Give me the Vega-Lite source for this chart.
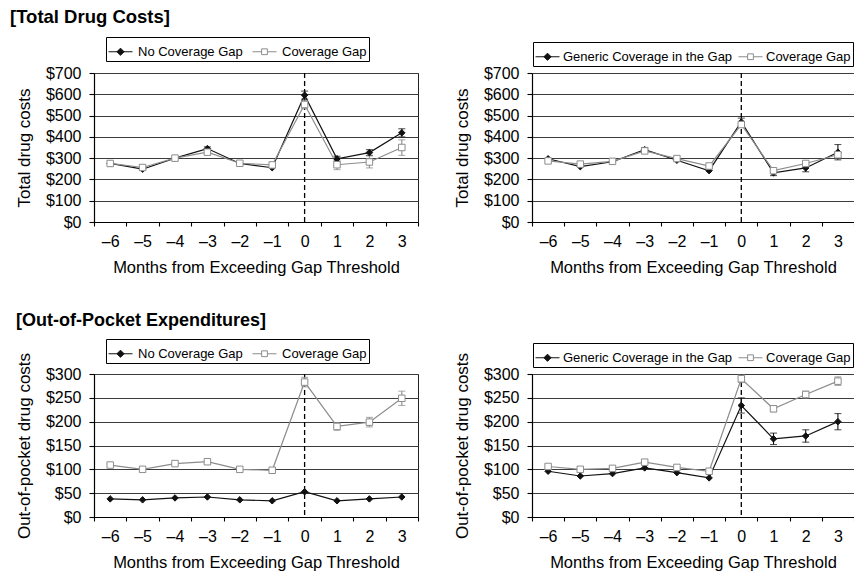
{
  "$schema": "https://vega.github.io/schema/vega-lite/v6.json",
  "autosize": "none",
  "padding": {"left": 94, "top": 73, "right": 760, "bottom": 499},
  "config": {
    "font": "Liberation Sans",
    "view": {"stroke": "#222", "strokeWidth": 1},
    "axis": {"labelFont": "Liberation Sans", "titleFont": "Liberation Sans", "labelFontSize": 16, "titleFontSize": 16.5, "labelColor": "black", "titleColor": "black", "titleFontWeight": "normal", "domainColor": "black", "tickColor": "black", "gridColor": "#3c3c3c", "gridWidth": 1.1, "domainWidth": 1.2, "tickWidth": 1.1},
    "axisY": {"titleFontSize": 17},
    "legend": {"labelFont": "Liberation Sans", "labelColor": "black"}
  },
  "datasets": {
    "d": [
      {"p":1,"s":"No Coverage Gap","m":-6,"v":275},
      {"p":1,"s":"No Coverage Gap","m":-5,"v":248},
      {"p":1,"s":"No Coverage Gap","m":-4,"v":300},
      {"p":1,"s":"No Coverage Gap","m":-3,"v":345,"lo":337,"hi":353},
      {"p":1,"s":"No Coverage Gap","m":-2,"v":275},
      {"p":1,"s":"No Coverage Gap","m":-1,"v":255},
      {"p":1,"s":"No Coverage Gap","m":0,"v":596,"lo":577,"hi":615},
      {"p":1,"s":"No Coverage Gap","m":1,"v":297,"lo":286,"hi":309},
      {"p":1,"s":"No Coverage Gap","m":2,"v":326,"lo":313,"hi":340},
      {"p":1,"s":"No Coverage Gap","m":3,"v":419,"lo":400,"hi":438},
      {"p":1,"s":"Coverage Gap","m":-6,"v":275},
      {"p":1,"s":"Coverage Gap","m":-5,"v":256},
      {"p":1,"s":"Coverage Gap","m":-4,"v":300},
      {"p":1,"s":"Coverage Gap","m":-3,"v":328},
      {"p":1,"s":"Coverage Gap","m":-2,"v":276},
      {"p":1,"s":"Coverage Gap","m":-1,"v":268},
      {"p":1,"s":"Coverage Gap","m":0,"v":552,"lo":532,"hi":572},
      {"p":1,"s":"Coverage Gap","m":1,"v":269,"lo":246,"hi":292},
      {"p":1,"s":"Coverage Gap","m":2,"v":282,"lo":254,"hi":310},
      {"p":1,"s":"Coverage Gap","m":3,"v":350,"lo":313,"hi":386},
      {"p":2,"s":"Generic Coverage in the Gap","m":-6,"v":297},
      {"p":2,"s":"Generic Coverage in the Gap","m":-5,"v":260},
      {"p":2,"s":"Generic Coverage in the Gap","m":-4,"v":283},
      {"p":2,"s":"Generic Coverage in the Gap","m":-3,"v":340,"lo":330,"hi":350},
      {"p":2,"s":"Generic Coverage in the Gap","m":-2,"v":290},
      {"p":2,"s":"Generic Coverage in the Gap","m":-1,"v":241},
      {"p":2,"s":"Generic Coverage in the Gap","m":0,"v":470,"lo":452,"hi":488},
      {"p":2,"s":"Generic Coverage in the Gap","m":1,"v":231,"lo":218,"hi":244},
      {"p":2,"s":"Generic Coverage in the Gap","m":2,"v":254,"lo":236,"hi":272},
      {"p":2,"s":"Generic Coverage in the Gap","m":3,"v":328,"lo":292,"hi":364},
      {"p":2,"s":"Coverage Gap","m":-6,"v":287},
      {"p":2,"s":"Coverage Gap","m":-5,"v":272},
      {"p":2,"s":"Coverage Gap","m":-4,"v":285},
      {"p":2,"s":"Coverage Gap","m":-3,"v":334},
      {"p":2,"s":"Coverage Gap","m":-2,"v":298},
      {"p":2,"s":"Coverage Gap","m":-1,"v":263},
      {"p":2,"s":"Coverage Gap","m":0,"v":458},
      {"p":2,"s":"Coverage Gap","m":1,"v":241},
      {"p":2,"s":"Coverage Gap","m":2,"v":275},
      {"p":2,"s":"Coverage Gap","m":3,"v":316,"lo":304,"hi":328},
      {"p":3,"s":"No Coverage Gap","m":-6,"v":38},
      {"p":3,"s":"No Coverage Gap","m":-5,"v":36},
      {"p":3,"s":"No Coverage Gap","m":-4,"v":40},
      {"p":3,"s":"No Coverage Gap","m":-3,"v":42},
      {"p":3,"s":"No Coverage Gap","m":-2,"v":36},
      {"p":3,"s":"No Coverage Gap","m":-1,"v":34},
      {"p":3,"s":"No Coverage Gap","m":0,"v":53},
      {"p":3,"s":"No Coverage Gap","m":1,"v":34},
      {"p":3,"s":"No Coverage Gap","m":2,"v":38},
      {"p":3,"s":"No Coverage Gap","m":3,"v":42},
      {"p":3,"s":"Coverage Gap","m":-6,"v":109},
      {"p":3,"s":"Coverage Gap","m":-5,"v":100},
      {"p":3,"s":"Coverage Gap","m":-4,"v":112},
      {"p":3,"s":"Coverage Gap","m":-3,"v":116},
      {"p":3,"s":"Coverage Gap","m":-2,"v":100},
      {"p":3,"s":"Coverage Gap","m":-1,"v":98},
      {"p":3,"s":"Coverage Gap","m":0,"v":283,"lo":273,"hi":293},
      {"p":3,"s":"Coverage Gap","m":1,"v":190,"lo":182,"hi":198},
      {"p":3,"s":"Coverage Gap","m":2,"v":199,"lo":189,"hi":209},
      {"p":3,"s":"Coverage Gap","m":3,"v":249,"lo":234,"hi":264},
      {"p":4,"s":"Generic Coverage in the Gap","m":-6,"v":96},
      {"p":4,"s":"Generic Coverage in the Gap","m":-5,"v":86},
      {"p":4,"s":"Generic Coverage in the Gap","m":-4,"v":91},
      {"p":4,"s":"Generic Coverage in the Gap","m":-3,"v":103},
      {"p":4,"s":"Generic Coverage in the Gap","m":-2,"v":93},
      {"p":4,"s":"Generic Coverage in the Gap","m":-1,"v":82},
      {"p":4,"s":"Generic Coverage in the Gap","m":0,"v":234,"lo":218,"hi":250},
      {"p":4,"s":"Generic Coverage in the Gap","m":1,"v":164,"lo":152,"hi":176},
      {"p":4,"s":"Generic Coverage in the Gap","m":2,"v":170,"lo":157,"hi":183},
      {"p":4,"s":"Generic Coverage in the Gap","m":3,"v":200,"lo":183,"hi":217},
      {"p":4,"s":"Coverage Gap","m":-6,"v":106},
      {"p":4,"s":"Coverage Gap","m":-5,"v":100},
      {"p":4,"s":"Coverage Gap","m":-4,"v":102},
      {"p":4,"s":"Coverage Gap","m":-3,"v":115},
      {"p":4,"s":"Coverage Gap","m":-2,"v":104},
      {"p":4,"s":"Coverage Gap","m":-1,"v":96},
      {"p":4,"s":"Coverage Gap","m":0,"v":290,"lo":282,"hi":298},
      {"p":4,"s":"Coverage Gap","m":1,"v":227,"lo":221,"hi":233},
      {"p":4,"s":"Coverage Gap","m":2,"v":257,"lo":250,"hi":264},
      {"p":4,"s":"Coverage Gap","m":3,"v":285,"lo":276,"hi":294}
    ]
  },
  "bounds": "flush",
  "spacing": 301,
  "resolve": {"scale": {"color": "independent", "shape": "independent", "fill": "independent", "stroke": "independent"}, "legend": {"color": "independent", "shape": "independent", "fill": "independent", "stroke": "independent"}},
  "vconcat": [
    {
      "title": {"text": "[Total Drug Costs]", "anchor": "start", "frame": "group", "dx": -84, "offset": -5, "baseline": "alphabetic", "fontSize": 18.5, "fontWeight": "bold", "font": "Liberation Sans", "color": "black"},
      "bounds": "flush",
      "spacing": 114,
      "resolve": {"scale": {"color": "independent", "shape": "independent", "fill": "independent", "stroke": "independent"}, "legend": {"color": "independent", "shape": "independent", "fill": "independent", "stroke": "independent"}},
      "hconcat": [
        {
          "width": 324, "height": 149,
          "data": {"name": "d"},
          "resolve": {"scale": {"shape": "independent", "fill": "independent", "stroke": "independent"}},
          "layer": [
            {"data": {"values": [{"m": 0}]}, "mark": {"type": "rule", "strokeDash": [5, 3], "color": "black", "strokeWidth": 1.3},
             "encoding": {"x": {"field": "m", "type": "ordinal", "scale": {"type": "band", "domain": [-6,-5,-4,-3,-2,-1,0,1,2,3], "paddingInner": 0, "paddingOuter": 0}, "axis": {"title": "Months from Exceeding Gap Threshold", "tickBand": "extent", "labelAngle": 0, "labelExpr": "isValid(datum.value) ? (datum.value < 0 ? '–' + (-datum.value) : '' + datum.value) : ''", "grid": false, "tickSize": 4, "labelPadding": 7, "titlePadding": 10}}}},
            {"transform": [{"filter": "datum.p == 1"}], "mark": {"type": "line", "strokeWidth": 1.2},
             "encoding": {
               "x": {"field": "m", "type": "ordinal", "scale": {"type": "band", "domain": [-6,-5,-4,-3,-2,-1,0,1,2,3], "paddingInner": 0, "paddingOuter": 0}, "axis": {"title": "Months from Exceeding Gap Threshold", "tickBand": "extent", "labelAngle": 0, "labelExpr": "isValid(datum.value) ? (datum.value < 0 ? '–' + (-datum.value) : '' + datum.value) : ''", "grid": false, "tickSize": 4, "labelPadding": 7, "titlePadding": 10}},
               "y": {"field": "v", "type": "quantitative", "scale": {"domain": [0, 700], "nice": false}, "axis": {"title": "Total drug costs", "values": [0,100,200,300,400,500,600,700], "format": "$d", "grid": true, "tickSize": 5, "labelPadding": 8, "titlePadding": 12}},
               "color": {"field": "s", "type": "nominal", "scale": {"domain": ["No Coverage Gap", "Coverage Gap"], "range": ["#111111", "#8c8c8c"]}, "legend": null}}},
            {"transform": [{"filter": "datum.p == 1 && isValid(datum.lo)"}], "mark": {"type": "errorbar", "ticks": {"size": 7}, "thickness": 1.1},
             "encoding": {
               "x": {"field": "m", "type": "ordinal", "scale": {"type": "band", "domain": [-6,-5,-4,-3,-2,-1,0,1,2,3], "paddingInner": 0, "paddingOuter": 0}, "axis": {"title": "Months from Exceeding Gap Threshold", "tickBand": "extent", "labelAngle": 0, "labelExpr": "isValid(datum.value) ? (datum.value < 0 ? '–' + (-datum.value) : '' + datum.value) : ''", "grid": false, "tickSize": 4, "labelPadding": 7, "titlePadding": 10}},
               "y": {"field": "lo", "type": "quantitative", "scale": {"domain": [0, 700], "nice": false}, "axis": {"title": "Total drug costs", "values": [0,100,200,300,400,500,600,700], "format": "$d", "grid": true, "tickSize": 5, "labelPadding": 8, "titlePadding": 12}},
               "y2": {"field": "hi"},
               "color": {"field": "s", "type": "nominal", "scale": {"domain": ["No Coverage Gap", "Coverage Gap"], "range": ["#111111", "#8c8c8c"]}, "legend": null}}},
            {"transform": [{"filter": "datum.p == 1"}], "mark": {"type": "point", "filled": true, "strokeWidth": 1, "opacity": 1, "size": 42},
             "encoding": {
               "x": {"field": "m", "type": "ordinal", "scale": {"type": "band", "domain": [-6,-5,-4,-3,-2,-1,0,1,2,3], "paddingInner": 0, "paddingOuter": 0}, "axis": {"title": "Months from Exceeding Gap Threshold", "tickBand": "extent", "labelAngle": 0, "labelExpr": "isValid(datum.value) ? (datum.value < 0 ? '–' + (-datum.value) : '' + datum.value) : ''", "grid": false, "tickSize": 4, "labelPadding": 7, "titlePadding": 10}},
               "y": {"field": "v", "type": "quantitative", "scale": {"domain": [0, 700], "nice": false}, "axis": {"title": "Total drug costs", "values": [0,100,200,300,400,500,600,700], "format": "$d", "grid": true, "tickSize": 5, "labelPadding": 8, "titlePadding": 12}},
               "shape": {"field": "s", "type": "nominal", "scale": {"domain": ["No Coverage Gap", "Coverage Gap"], "range": ["diamond", "square"]}, "legend": null},
               "fill": {"field": "s", "type": "nominal", "scale": {"domain": ["No Coverage Gap", "Coverage Gap"], "range": ["#111111", "white"]}, "legend": null},
               "stroke": {"field": "s", "type": "nominal", "scale": {"domain": ["No Coverage Gap", "Coverage Gap"], "range": ["#111111", "#8c8c8c"]}, "legend": null}}},
            {"transform": [{"filter": "datum.p == 0"}], "mark": {"type": "point", "filled": true, "strokeWidth": 1, "opacity": 1},
             "encoding": {
               "x": {"field": "m", "type": "ordinal", "scale": {"type": "band", "domain": [-6,-5,-4,-3,-2,-1,0,1,2,3], "paddingInner": 0, "paddingOuter": 0}, "axis": {"title": "Months from Exceeding Gap Threshold", "tickBand": "extent", "labelAngle": 0, "labelExpr": "isValid(datum.value) ? (datum.value < 0 ? '–' + (-datum.value) : '' + datum.value) : ''", "grid": false, "tickSize": 4, "labelPadding": 7, "titlePadding": 10}},
               "y": {"field": "v", "type": "quantitative", "scale": {"domain": [0, 700], "nice": false}, "axis": {"title": "Total drug costs", "values": [0,100,200,300,400,500,600,700], "format": "$d", "grid": true, "tickSize": 5, "labelPadding": 8, "titlePadding": 12}},
               "shape": {"field": "s", "type": "nominal", "scale": {"domain": ["No Coverage Gap", "Coverage Gap"], "range": ["M-1,0L1,0M0,-0.3L0.3,0L0,0.3L-0.3,0Z", "M-1,0L-0.24,0M0.24,0L1,0M-0.24,-0.24L0.24,-0.24L0.24,0.24L-0.24,0.24Z"]},
                 "legend": {"orient": "none", "legendX": 12, "legendY": -36, "direction": "horizontal", "title": null, "strokeColor": "black", "fillColor": "white", "padding": 2, "labelFontSize": 13, "labelLimit": 400, "labelOffset": 5, "columnPadding": 7, "symbolSize": 576, "symbolStrokeWidth": 1, "symbolOpacity": 1}},
               "fill": {"field": "s", "type": "nominal", "scale": {"domain": ["No Coverage Gap", "Coverage Gap"], "range": ["#111111", "white"]}},
               "stroke": {"field": "s", "type": "nominal", "scale": {"domain": ["No Coverage Gap", "Coverage Gap"], "range": ["#111111", "#8c8c8c"]}}}}
          ]
        },
        {
          "width": 322, "height": 149,
          "data": {"name": "d"},
          "resolve": {"scale": {"shape": "independent", "fill": "independent", "stroke": "independent"}},
          "layer": [
            {"data": {"values": [{"m": 0}]}, "mark": {"type": "rule", "strokeDash": [5, 3], "color": "black", "strokeWidth": 1.3},
             "encoding": {"x": {"field": "m", "type": "ordinal", "scale": {"type": "band", "domain": [-6,-5,-4,-3,-2,-1,0,1,2,3], "paddingInner": 0, "paddingOuter": 0}, "axis": {"title": "Months from Exceeding Gap Threshold", "tickBand": "extent", "labelAngle": 0, "labelExpr": "isValid(datum.value) ? (datum.value < 0 ? '–' + (-datum.value) : '' + datum.value) : ''", "grid": false, "tickSize": 4, "labelPadding": 7, "titlePadding": 10}}}},
            {"transform": [{"filter": "datum.p == 2"}], "mark": {"type": "line", "strokeWidth": 1.2},
             "encoding": {
               "x": {"field": "m", "type": "ordinal", "scale": {"type": "band", "domain": [-6,-5,-4,-3,-2,-1,0,1,2,3], "paddingInner": 0, "paddingOuter": 0}, "axis": {"title": "Months from Exceeding Gap Threshold", "tickBand": "extent", "labelAngle": 0, "labelExpr": "isValid(datum.value) ? (datum.value < 0 ? '–' + (-datum.value) : '' + datum.value) : ''", "grid": false, "tickSize": 4, "labelPadding": 7, "titlePadding": 10}},
               "y": {"field": "v", "type": "quantitative", "scale": {"domain": [0, 700], "nice": false}, "axis": {"title": "Total drug costs", "values": [0,100,200,300,400,500,600,700], "format": "$d", "grid": true, "tickSize": 5, "labelPadding": 8, "titlePadding": 12}},
               "color": {"field": "s", "type": "nominal", "scale": {"domain": ["Generic Coverage in the Gap", "Coverage Gap"], "range": ["#111111", "#8c8c8c"]}, "legend": null}}},
            {"transform": [{"filter": "datum.p == 2 && isValid(datum.lo)"}], "mark": {"type": "errorbar", "ticks": {"size": 7}, "thickness": 1.1},
             "encoding": {
               "x": {"field": "m", "type": "ordinal", "scale": {"type": "band", "domain": [-6,-5,-4,-3,-2,-1,0,1,2,3], "paddingInner": 0, "paddingOuter": 0}, "axis": {"title": "Months from Exceeding Gap Threshold", "tickBand": "extent", "labelAngle": 0, "labelExpr": "isValid(datum.value) ? (datum.value < 0 ? '–' + (-datum.value) : '' + datum.value) : ''", "grid": false, "tickSize": 4, "labelPadding": 7, "titlePadding": 10}},
               "y": {"field": "lo", "type": "quantitative", "scale": {"domain": [0, 700], "nice": false}, "axis": {"title": "Total drug costs", "values": [0,100,200,300,400,500,600,700], "format": "$d", "grid": true, "tickSize": 5, "labelPadding": 8, "titlePadding": 12}},
               "y2": {"field": "hi"},
               "color": {"field": "s", "type": "nominal", "scale": {"domain": ["Generic Coverage in the Gap", "Coverage Gap"], "range": ["#111111", "#8c8c8c"]}, "legend": null}}},
            {"transform": [{"filter": "datum.p == 2"}], "mark": {"type": "point", "filled": true, "strokeWidth": 1, "opacity": 1, "size": 42},
             "encoding": {
               "x": {"field": "m", "type": "ordinal", "scale": {"type": "band", "domain": [-6,-5,-4,-3,-2,-1,0,1,2,3], "paddingInner": 0, "paddingOuter": 0}, "axis": {"title": "Months from Exceeding Gap Threshold", "tickBand": "extent", "labelAngle": 0, "labelExpr": "isValid(datum.value) ? (datum.value < 0 ? '–' + (-datum.value) : '' + datum.value) : ''", "grid": false, "tickSize": 4, "labelPadding": 7, "titlePadding": 10}},
               "y": {"field": "v", "type": "quantitative", "scale": {"domain": [0, 700], "nice": false}, "axis": {"title": "Total drug costs", "values": [0,100,200,300,400,500,600,700], "format": "$d", "grid": true, "tickSize": 5, "labelPadding": 8, "titlePadding": 12}},
               "shape": {"field": "s", "type": "nominal", "scale": {"domain": ["Generic Coverage in the Gap", "Coverage Gap"], "range": ["diamond", "square"]}, "legend": null},
               "fill": {"field": "s", "type": "nominal", "scale": {"domain": ["Generic Coverage in the Gap", "Coverage Gap"], "range": ["#111111", "white"]}, "legend": null},
               "stroke": {"field": "s", "type": "nominal", "scale": {"domain": ["Generic Coverage in the Gap", "Coverage Gap"], "range": ["#111111", "#8c8c8c"]}, "legend": null}}},
            {"transform": [{"filter": "datum.p == 0"}], "mark": {"type": "point", "filled": true, "strokeWidth": 1, "opacity": 1},
             "encoding": {
               "x": {"field": "m", "type": "ordinal", "scale": {"type": "band", "domain": [-6,-5,-4,-3,-2,-1,0,1,2,3], "paddingInner": 0, "paddingOuter": 0}, "axis": {"title": "Months from Exceeding Gap Threshold", "tickBand": "extent", "labelAngle": 0, "labelExpr": "isValid(datum.value) ? (datum.value < 0 ? '–' + (-datum.value) : '' + datum.value) : ''", "grid": false, "tickSize": 4, "labelPadding": 7, "titlePadding": 10}},
               "y": {"field": "v", "type": "quantitative", "scale": {"domain": [0, 700], "nice": false}, "axis": {"title": "Total drug costs", "values": [0,100,200,300,400,500,600,700], "format": "$d", "grid": true, "tickSize": 5, "labelPadding": 8, "titlePadding": 12}},
               "shape": {"field": "s", "type": "nominal", "scale": {"domain": ["Generic Coverage in the Gap", "Coverage Gap"], "range": ["M-1,0L1,0M0,-0.3L0.3,0L0,0.3L-0.3,0Z", "M-1,0L-0.24,0M0.24,0L1,0M-0.24,-0.24L0.24,-0.24L0.24,0.24L-0.24,0.24Z"]},
                 "legend": {"orient": "none", "legendX": 1, "legendY": -31, "direction": "horizontal", "title": null, "strokeColor": "black", "fillColor": "white", "padding": 2, "labelFontSize": 13, "labelLimit": 400, "labelOffset": 3, "columnPadding": 3, "symbolSize": 576, "symbolStrokeWidth": 1, "symbolOpacity": 1}},
               "fill": {"field": "s", "type": "nominal", "scale": {"domain": ["Generic Coverage in the Gap", "Coverage Gap"], "range": ["#111111", "white"]}},
               "stroke": {"field": "s", "type": "nominal", "scale": {"domain": ["Generic Coverage in the Gap", "Coverage Gap"], "range": ["#111111", "#8c8c8c"]}}}}
          ]
        }
      ]
    },
    {
      "title": {"text": "[Out-of-Pocket Expenditures]", "anchor": "start", "frame": "group", "dx": -78, "offset": -6, "baseline": "alphabetic", "fontSize": 18, "fontWeight": "bold", "font": "Liberation Sans", "color": "black"},
      "bounds": "flush",
      "spacing": 114,
      "resolve": {"scale": {"color": "independent", "shape": "independent", "fill": "independent", "stroke": "independent"}, "legend": {"color": "independent", "shape": "independent", "fill": "independent", "stroke": "independent"}},
      "hconcat": [
        {
          "width": 324, "height": 143,
          "data": {"name": "d"},
          "resolve": {"scale": {"shape": "independent", "fill": "independent", "stroke": "independent"}},
          "layer": [
            {"data": {"values": [{"m": 0}]}, "mark": {"type": "rule", "strokeDash": [5, 3], "color": "black", "strokeWidth": 1.3},
             "encoding": {"x": {"field": "m", "type": "ordinal", "scale": {"type": "band", "domain": [-6,-5,-4,-3,-2,-1,0,1,2,3], "paddingInner": 0, "paddingOuter": 0}, "axis": {"title": "Months from Exceeding Gap Threshold", "tickBand": "extent", "labelAngle": 0, "labelExpr": "isValid(datum.value) ? (datum.value < 0 ? '–' + (-datum.value) : '' + datum.value) : ''", "grid": false, "tickSize": 4, "labelPadding": 7, "titlePadding": 10}}}},
            {"transform": [{"filter": "datum.p == 3"}], "mark": {"type": "line", "strokeWidth": 1.2},
             "encoding": {
               "x": {"field": "m", "type": "ordinal", "scale": {"type": "band", "domain": [-6,-5,-4,-3,-2,-1,0,1,2,3], "paddingInner": 0, "paddingOuter": 0}, "axis": {"title": "Months from Exceeding Gap Threshold", "tickBand": "extent", "labelAngle": 0, "labelExpr": "isValid(datum.value) ? (datum.value < 0 ? '–' + (-datum.value) : '' + datum.value) : ''", "grid": false, "tickSize": 4, "labelPadding": 7, "titlePadding": 10}},
               "y": {"field": "v", "type": "quantitative", "scale": {"domain": [0, 300], "nice": false}, "axis": {"title": "Out-of-pocket drug costs", "values": [0,50,100,150,200,250,300], "format": "$d", "grid": true, "tickSize": 5, "labelPadding": 8, "titlePadding": 12}},
               "color": {"field": "s", "type": "nominal", "scale": {"domain": ["No Coverage Gap", "Coverage Gap"], "range": ["#111111", "#8c8c8c"]}, "legend": null}}},
            {"transform": [{"filter": "datum.p == 3 && isValid(datum.lo)"}], "mark": {"type": "errorbar", "ticks": {"size": 7}, "thickness": 1.1},
             "encoding": {
               "x": {"field": "m", "type": "ordinal", "scale": {"type": "band", "domain": [-6,-5,-4,-3,-2,-1,0,1,2,3], "paddingInner": 0, "paddingOuter": 0}, "axis": {"title": "Months from Exceeding Gap Threshold", "tickBand": "extent", "labelAngle": 0, "labelExpr": "isValid(datum.value) ? (datum.value < 0 ? '–' + (-datum.value) : '' + datum.value) : ''", "grid": false, "tickSize": 4, "labelPadding": 7, "titlePadding": 10}},
               "y": {"field": "lo", "type": "quantitative", "scale": {"domain": [0, 300], "nice": false}, "axis": {"title": "Out-of-pocket drug costs", "values": [0,50,100,150,200,250,300], "format": "$d", "grid": true, "tickSize": 5, "labelPadding": 8, "titlePadding": 12}},
               "y2": {"field": "hi"},
               "color": {"field": "s", "type": "nominal", "scale": {"domain": ["No Coverage Gap", "Coverage Gap"], "range": ["#111111", "#8c8c8c"]}, "legend": null}}},
            {"transform": [{"filter": "datum.p == 3"}], "mark": {"type": "point", "filled": true, "strokeWidth": 1, "opacity": 1, "size": 42},
             "encoding": {
               "x": {"field": "m", "type": "ordinal", "scale": {"type": "band", "domain": [-6,-5,-4,-3,-2,-1,0,1,2,3], "paddingInner": 0, "paddingOuter": 0}, "axis": {"title": "Months from Exceeding Gap Threshold", "tickBand": "extent", "labelAngle": 0, "labelExpr": "isValid(datum.value) ? (datum.value < 0 ? '–' + (-datum.value) : '' + datum.value) : ''", "grid": false, "tickSize": 4, "labelPadding": 7, "titlePadding": 10}},
               "y": {"field": "v", "type": "quantitative", "scale": {"domain": [0, 300], "nice": false}, "axis": {"title": "Out-of-pocket drug costs", "values": [0,50,100,150,200,250,300], "format": "$d", "grid": true, "tickSize": 5, "labelPadding": 8, "titlePadding": 12}},
               "shape": {"field": "s", "type": "nominal", "scale": {"domain": ["No Coverage Gap", "Coverage Gap"], "range": ["diamond", "square"]}, "legend": null},
               "fill": {"field": "s", "type": "nominal", "scale": {"domain": ["No Coverage Gap", "Coverage Gap"], "range": ["#111111", "white"]}, "legend": null},
               "stroke": {"field": "s", "type": "nominal", "scale": {"domain": ["No Coverage Gap", "Coverage Gap"], "range": ["#111111", "#8c8c8c"]}, "legend": null}}},
            {"transform": [{"filter": "datum.p == 0"}], "mark": {"type": "point", "filled": true, "strokeWidth": 1, "opacity": 1},
             "encoding": {
               "x": {"field": "m", "type": "ordinal", "scale": {"type": "band", "domain": [-6,-5,-4,-3,-2,-1,0,1,2,3], "paddingInner": 0, "paddingOuter": 0}, "axis": {"title": "Months from Exceeding Gap Threshold", "tickBand": "extent", "labelAngle": 0, "labelExpr": "isValid(datum.value) ? (datum.value < 0 ? '–' + (-datum.value) : '' + datum.value) : ''", "grid": false, "tickSize": 4, "labelPadding": 7, "titlePadding": 10}},
               "y": {"field": "v", "type": "quantitative", "scale": {"domain": [0, 300], "nice": false}, "axis": {"title": "Out-of-pocket drug costs", "values": [0,50,100,150,200,250,300], "format": "$d", "grid": true, "tickSize": 5, "labelPadding": 8, "titlePadding": 12}},
               "shape": {"field": "s", "type": "nominal", "scale": {"domain": ["No Coverage Gap", "Coverage Gap"], "range": ["M-1,0L1,0M0,-0.3L0.3,0L0,0.3L-0.3,0Z", "M-1,0L-0.24,0M0.24,0L1,0M-0.24,-0.24L0.24,-0.24L0.24,0.24L-0.24,0.24Z"]},
                 "legend": {"orient": "none", "legendX": 12, "legendY": -35, "direction": "horizontal", "title": null, "strokeColor": "black", "fillColor": "white", "padding": 2, "labelFontSize": 13, "labelLimit": 400, "labelOffset": 5, "columnPadding": 7, "symbolSize": 576, "symbolStrokeWidth": 1, "symbolOpacity": 1}},
               "fill": {"field": "s", "type": "nominal", "scale": {"domain": ["No Coverage Gap", "Coverage Gap"], "range": ["#111111", "white"]}},
               "stroke": {"field": "s", "type": "nominal", "scale": {"domain": ["No Coverage Gap", "Coverage Gap"], "range": ["#111111", "#8c8c8c"]}}}}
          ]
        },
        {
          "width": 322, "height": 143,
          "data": {"name": "d"},
          "resolve": {"scale": {"shape": "independent", "fill": "independent", "stroke": "independent"}},
          "layer": [
            {"data": {"values": [{"m": 0}]}, "mark": {"type": "rule", "strokeDash": [5, 3], "color": "black", "strokeWidth": 1.3},
             "encoding": {"x": {"field": "m", "type": "ordinal", "scale": {"type": "band", "domain": [-6,-5,-4,-3,-2,-1,0,1,2,3], "paddingInner": 0, "paddingOuter": 0}, "axis": {"title": "Months from Exceeding Gap Threshold", "tickBand": "extent", "labelAngle": 0, "labelExpr": "isValid(datum.value) ? (datum.value < 0 ? '–' + (-datum.value) : '' + datum.value) : ''", "grid": false, "tickSize": 4, "labelPadding": 7, "titlePadding": 10}}}},
            {"transform": [{"filter": "datum.p == 4"}], "mark": {"type": "line", "strokeWidth": 1.2},
             "encoding": {
               "x": {"field": "m", "type": "ordinal", "scale": {"type": "band", "domain": [-6,-5,-4,-3,-2,-1,0,1,2,3], "paddingInner": 0, "paddingOuter": 0}, "axis": {"title": "Months from Exceeding Gap Threshold", "tickBand": "extent", "labelAngle": 0, "labelExpr": "isValid(datum.value) ? (datum.value < 0 ? '–' + (-datum.value) : '' + datum.value) : ''", "grid": false, "tickSize": 4, "labelPadding": 7, "titlePadding": 10}},
               "y": {"field": "v", "type": "quantitative", "scale": {"domain": [0, 300], "nice": false}, "axis": {"title": "Out-of-pocket drug costs", "values": [0,50,100,150,200,250,300], "format": "$d", "grid": true, "tickSize": 5, "labelPadding": 8, "titlePadding": 12}},
               "color": {"field": "s", "type": "nominal", "scale": {"domain": ["Generic Coverage in the Gap", "Coverage Gap"], "range": ["#111111", "#8c8c8c"]}, "legend": null}}},
            {"transform": [{"filter": "datum.p == 4 && isValid(datum.lo)"}], "mark": {"type": "errorbar", "ticks": {"size": 7}, "thickness": 1.1},
             "encoding": {
               "x": {"field": "m", "type": "ordinal", "scale": {"type": "band", "domain": [-6,-5,-4,-3,-2,-1,0,1,2,3], "paddingInner": 0, "paddingOuter": 0}, "axis": {"title": "Months from Exceeding Gap Threshold", "tickBand": "extent", "labelAngle": 0, "labelExpr": "isValid(datum.value) ? (datum.value < 0 ? '–' + (-datum.value) : '' + datum.value) : ''", "grid": false, "tickSize": 4, "labelPadding": 7, "titlePadding": 10}},
               "y": {"field": "lo", "type": "quantitative", "scale": {"domain": [0, 300], "nice": false}, "axis": {"title": "Out-of-pocket drug costs", "values": [0,50,100,150,200,250,300], "format": "$d", "grid": true, "tickSize": 5, "labelPadding": 8, "titlePadding": 12}},
               "y2": {"field": "hi"},
               "color": {"field": "s", "type": "nominal", "scale": {"domain": ["Generic Coverage in the Gap", "Coverage Gap"], "range": ["#111111", "#8c8c8c"]}, "legend": null}}},
            {"transform": [{"filter": "datum.p == 4"}], "mark": {"type": "point", "filled": true, "strokeWidth": 1, "opacity": 1, "size": 42},
             "encoding": {
               "x": {"field": "m", "type": "ordinal", "scale": {"type": "band", "domain": [-6,-5,-4,-3,-2,-1,0,1,2,3], "paddingInner": 0, "paddingOuter": 0}, "axis": {"title": "Months from Exceeding Gap Threshold", "tickBand": "extent", "labelAngle": 0, "labelExpr": "isValid(datum.value) ? (datum.value < 0 ? '–' + (-datum.value) : '' + datum.value) : ''", "grid": false, "tickSize": 4, "labelPadding": 7, "titlePadding": 10}},
               "y": {"field": "v", "type": "quantitative", "scale": {"domain": [0, 300], "nice": false}, "axis": {"title": "Out-of-pocket drug costs", "values": [0,50,100,150,200,250,300], "format": "$d", "grid": true, "tickSize": 5, "labelPadding": 8, "titlePadding": 12}},
               "shape": {"field": "s", "type": "nominal", "scale": {"domain": ["Generic Coverage in the Gap", "Coverage Gap"], "range": ["diamond", "square"]}, "legend": null},
               "fill": {"field": "s", "type": "nominal", "scale": {"domain": ["Generic Coverage in the Gap", "Coverage Gap"], "range": ["#111111", "white"]}, "legend": null},
               "stroke": {"field": "s", "type": "nominal", "scale": {"domain": ["Generic Coverage in the Gap", "Coverage Gap"], "range": ["#111111", "#8c8c8c"]}, "legend": null}}},
            {"transform": [{"filter": "datum.p == 0"}], "mark": {"type": "point", "filled": true, "strokeWidth": 1, "opacity": 1},
             "encoding": {
               "x": {"field": "m", "type": "ordinal", "scale": {"type": "band", "domain": [-6,-5,-4,-3,-2,-1,0,1,2,3], "paddingInner": 0, "paddingOuter": 0}, "axis": {"title": "Months from Exceeding Gap Threshold", "tickBand": "extent", "labelAngle": 0, "labelExpr": "isValid(datum.value) ? (datum.value < 0 ? '–' + (-datum.value) : '' + datum.value) : ''", "grid": false, "tickSize": 4, "labelPadding": 7, "titlePadding": 10}},
               "y": {"field": "v", "type": "quantitative", "scale": {"domain": [0, 300], "nice": false}, "axis": {"title": "Out-of-pocket drug costs", "values": [0,50,100,150,200,250,300], "format": "$d", "grid": true, "tickSize": 5, "labelPadding": 8, "titlePadding": 12}},
               "shape": {"field": "s", "type": "nominal", "scale": {"domain": ["Generic Coverage in the Gap", "Coverage Gap"], "range": ["M-1,0L1,0M0,-0.3L0.3,0L0,0.3L-0.3,0Z", "M-1,0L-0.24,0M0.24,0L1,0M-0.24,-0.24L0.24,-0.24L0.24,0.24L-0.24,0.24Z"]},
                 "legend": {"orient": "none", "legendX": 1, "legendY": -31, "direction": "horizontal", "title": null, "strokeColor": "black", "fillColor": "white", "padding": 2, "labelFontSize": 13, "labelLimit": 400, "labelOffset": 3, "columnPadding": 3, "symbolSize": 576, "symbolStrokeWidth": 1, "symbolOpacity": 1}},
               "fill": {"field": "s", "type": "nominal", "scale": {"domain": ["Generic Coverage in the Gap", "Coverage Gap"], "range": ["#111111", "white"]}},
               "stroke": {"field": "s", "type": "nominal", "scale": {"domain": ["Generic Coverage in the Gap", "Coverage Gap"], "range": ["#111111", "#8c8c8c"]}}}}
          ]
        }
      ]
    }
  ]
}
